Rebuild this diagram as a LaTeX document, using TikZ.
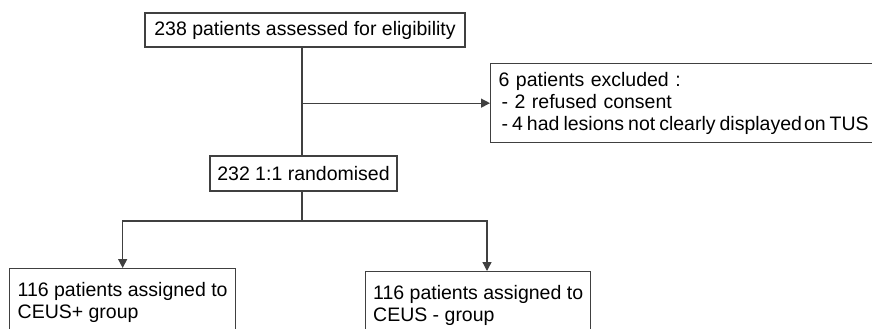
\documentclass[tikz,border=0pt]{standalone}
\usepackage{fontspec}
\setmainfont{Liberation Sans}
\usetikzlibrary{arrows.meta}
\definecolor{linec}{gray}{0.25}
\begin{document}
\begin{tikzpicture}[x=1pt,y=-1pt,
  box/.style={draw=linec, line width=1.3pt, rectangle, inner sep=0pt,
    font=\fontsize{19.5}{22}\selectfont, text=black},
  arr/.style={draw=linec, line width=1.3pt, -{Triangle[length=9pt,width=9pt]}},
  ln/.style={draw=linec, line width=1.3pt}]
\useasboundingbox (0,0) rectangle (872,329);
\clip (0,0) rectangle (872,329);
\node[box, minimum width=320pt, minimum height=34pt] (top) at (305,30) {238 patients assessed for eligibility};
\node[box, minimum width=187pt, minimum height=35pt] (rand) at (303.5,173.5) {232 1:1 randomised};
\node[box, anchor=north west, minimum width=420pt, minimum height=79pt, text width=404pt, align=left] (excl) at (490,63)
  {6 patients excluded :\\\hspace*{3pt}- 2 refused consent\\{\spaceskip=4pt\relax\hspace*{3pt}- 4 had lesions not clearly displayed\hspace{-2pt} on TUS}};
\node[box, anchor=north west, minimum width=226pt, minimum height=68pt, align=left] (plus) at (9,268)
  {116 patients assigned to\\CEUS+ group};
\node[box, anchor=north west, minimum width=225pt, minimum height=68pt, align=left] (minus) at (365,271)
  {116 patients assigned to\\CEUS - group};
\coordinate (vx) at (302,0);
\coordinate (rx) at (487,0);
\coordinate (sp) at (302,221);
\draw[ln] (top.south -| vx) -- (rand.north -| vx);
\draw[arr] (vx |- excl.west) -- (excl.west);
\draw[ln] (rand.south -| vx) -- (sp);
\draw[arr] (sp) -| (plus.north);
\draw[arr] (sp) -| (minus.north -| rx);
\end{tikzpicture}
\end{document}
